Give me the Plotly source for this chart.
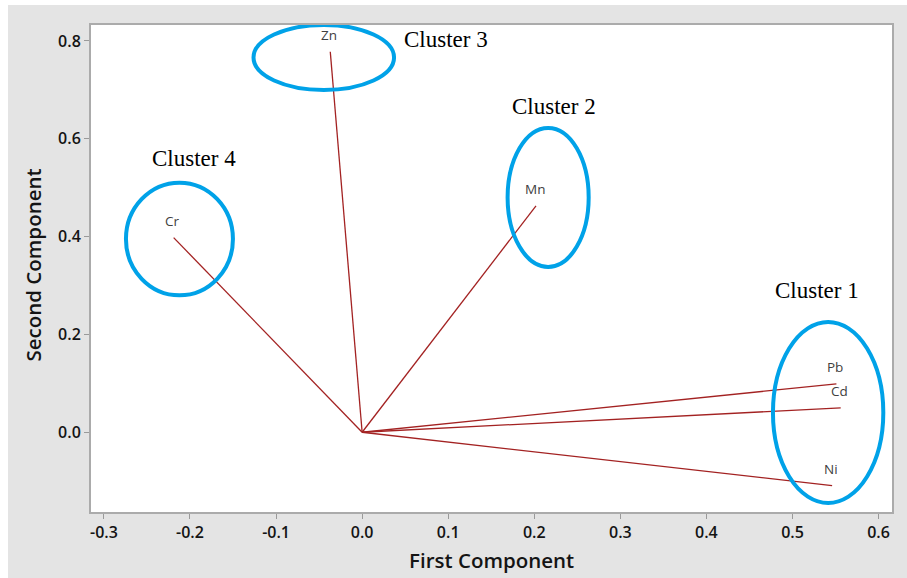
import plotly.graph_objects as go

# ---- data ----
variables = ["Pb", "Cd", "Ni", "Zn", "Mn", "Cr"]
first_component = [0.551, 0.556, 0.546, -0.037, 0.202, -0.219]
second_component = [0.099, 0.050, -0.109, 0.778, 0.463, 0.398]

x_ticks = [-0.3, -0.2, -0.1, 0.0, 0.1, 0.2, 0.3, 0.4, 0.5, 0.6]
x_tick_labels = ["-0.3", "-0.2", "-0.1", "0.0", "0.1", "0.2", "0.3", "0.4", "0.5", "0.6"]
y_ticks = [0.0, 0.2, 0.4, 0.6, 0.8]
y_tick_labels = ["0.0", "0.2", "0.4", "0.6", "0.8"]

cluster_names = ["Cluster 1", "Cluster 2", "Cluster 3", "Cluster 4"]
cluster_label_x = [0.529, 0.223, 0.098, -0.195]
cluster_label_y = [0.2895, 0.6656, 0.802, 0.5607]
# ellipse bounds [x0, x1, y0, y1]
cluster_x0 = [0.4773, 0.169, -0.1262, -0.2744]
cluster_x1 = [0.6055, 0.2632, 0.0371, -0.1501]
cluster_y0 = [-0.1445, 0.3381, 0.6997, 0.280]
cluster_y1 = [0.2255, 0.622, 0.8326, 0.5102]

LINE_COLOR = "#A32222"
ELLIPSE_COLOR = "#00A2E8"
BG = "#E4E4E4"
AXIS_GRAY = "#ABABAB"
TEXT_COLOR = "#141414"
UI_FONT = "Open Sans"

fig = go.Figure()

# loading lines from origin
for name, px, py in zip(variables, first_component, second_component):
    fig.add_trace(go.Scatter(
        x=[0, px], y=[0, py], mode="lines",
        line=dict(color=LINE_COLOR, width=1.3),
        hoverinfo="skip", showlegend=False, name=name,
    ))

annotations = []
for name, px, py in zip(variables, first_component, second_component):
    annotations.append(dict(
        x=px, y=py, xref="x", yref="y", text=name, showarrow=False,
        xanchor="center", yanchor="middle", xshift=-1, yshift=17,
        font=dict(family=UI_FONT, size=13.5, color="#404040"),
    ))

shapes = []
for name, lx, ly, x0, x1, y0, y1 in zip(cluster_names, cluster_label_x, cluster_label_y,
                                        cluster_x0, cluster_x1, cluster_y0, cluster_y1):
    shapes.append(dict(type="circle", xref="x", yref="y", x0=x0, x1=x1, y0=y0, y1=y1,
                       line=dict(color=ELLIPSE_COLOR, width=4), layer="above"))
    annotations.append(dict(
        x=lx, y=ly, xref="x", yref="y", text=name, showarrow=False,
        xanchor="center", yanchor="middle",
        font=dict(family="Liberation Serif, Times New Roman, serif", size=23, color="#000000"),
    ))

# axis titles
annotations.append(dict(
    x=0.5, y=-0.098, xref="paper", yref="paper", text="First Component", showarrow=False,
    xanchor="center", yanchor="middle",
    font=dict(family=UI_FONT, size=20.5, color=TEXT_COLOR, weight=600),
))
annotations.append(dict(
    x=-0.0724, y=0.506, xref="paper", yref="paper", text="Second Component", showarrow=False,
    xanchor="center", yanchor="middle", textangle=-90,
    font=dict(family=UI_FONT, size=20.5, color=TEXT_COLOR, weight=600),
))

# white strips at the image's left and top edges
shapes.append(dict(type="rect", xref="paper", yref="paper", x0=-0.2, x1=(8 - 91) / 800.7,
                   y0=-0.3, y1=1.3, fillcolor="white", line=dict(width=0), layer="below"))
shapes.append(dict(type="rect", xref="paper", yref="paper", x0=-0.2, x1=1.2,
                   y0=(512 - 5) / 487, y1=1.3, fillcolor="white", line=dict(width=0), layer="below"))

axis_common = dict(
    showgrid=False, zeroline=False, showline=True, mirror=True,
    linecolor=AXIS_GRAY, linewidth=2,
    ticks="outside", ticklen=5, tickwidth=1, tickcolor="#9A9A9A",
    tickfont=dict(family=UI_FONT, size=16, color=TEXT_COLOR, weight=600),
)

fig.update_layout(
    width=907, height=578,
    margin=dict(l=91, r=15, t=25, b=66),
    paper_bgcolor=BG, plot_bgcolor="white",
    showlegend=False,
    xaxis=dict(range=[-0.315, 0.6156], tickvals=x_ticks, ticktext=x_tick_labels, **axis_common),
    yaxis=dict(range=[-0.163, 0.8326], tickvals=y_ticks, ticktext=y_tick_labels, **axis_common),
    shapes=shapes,
    annotations=annotations,
)

fig.write_html(
    "out.html",
    config={"displayModeBar": False},
    post_script="document.body.style.margin='0';document.body.style.overflow='hidden';",
)
